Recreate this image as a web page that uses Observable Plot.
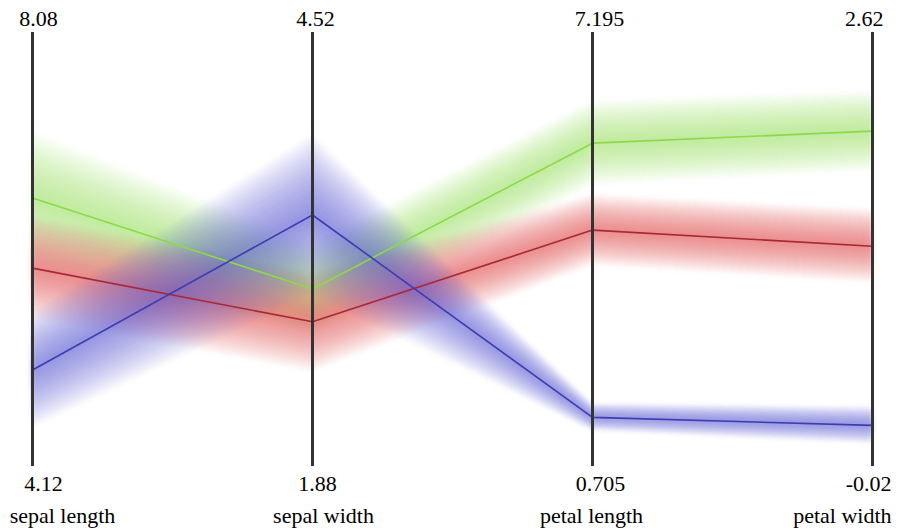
<!DOCTYPE html>
<html><head><meta charset="utf-8">
<script src="https://cdn.jsdelivr.net/npm/d3@7"></script>
<script src="https://cdn.jsdelivr.net/npm/@observablehq/plot@0.6"></script>
<style>
body{margin:0;background:#fff;font-family:"Liberation Serif",serif}
#chart svg text{font-family:"Liberation Serif","Times New Roman",serif !important}
</style>
</head><body><div id="chart"></div>
<script>
// ---- data ----
const dimensions = ["sepal length", "sepal width", "petal length", "petal width"];
const axisMax = [8.08, 4.52, 7.195, 2.62];
const axisMin = [4.12, 1.88, 0.705, -0.02];
const axisMaxLabels = ["8.08", "4.52", "7.195", "2.62"];
const axisMinLabels = ["4.12", "1.88", "0.705", "-0.02"];
const species = ["virginica", "versicolor", "setosa"];
const virginicaMean = [6.57, 2.96, 5.54, 2.02];
const versicolorMean = [5.93, 2.76, 4.24, 1.32];
const setosaMean = [5.00, 3.41, 1.44, 0.23];
const virginicaSpread = [0.60, 0.27, 0.62, 0.24];
const versicolorSpread = [0.46, 0.30, 0.52, 0.22];
const setosaSpread = [0.52, 0.48, 0.20, 0.11];

// ---- styles ----
const FONT = "Liberation Serif";
const lineColor = {virginica: "#8cd94a", versicolor: "#a8283a", setosa: "#3c3cb4"};
const bandColor = {virginica: "#9ee05e", versicolor: "#e0404a", setosa: "#5058d8"};
const topDx = [6, 3, 7, 11];
const bottomDx = [11, 5, 8, 19];
const nameDx = [30, 11, -1, 19];
const anchors = ["middle", "middle", "middle", "end"];

const means = {virginica: virginicaMean, versicolor: versicolorMean, setosa: setosaMean};
const spreads = {virginica: virginicaSpread, versicolor: versicolorSpread, setosa: setosaSpread};
const norm = (v, i) => (v - axisMin[i]) / (axisMax[i] - axisMin[i]);

const rows = [];
for (const s of species) {
  dimensions.forEach((d, i) => {
    rows.push({species: s, dim: d, i, value: means[s][i], spread: spreads[s][i]});
  });
}

const layers = 12;
const bandMarks = [];
for (const s of species) {
  const data = rows.filter(r => r.species === s);
  for (let k = 1; k <= layers; k++) {
    const f = k / layers;
    bandMarks.push(Plot.areaY(data, {
      x: "dim",
      y1: r => norm(r.value - r.spread * f, r.i),
      y2: r => norm(r.value + r.spread * f, r.i),
      fill: bandColor[s],
      fillOpacity: 0.07,
      imageFilter: "blur(2px)"
    }));
  }
}

const textMarks = [];
dimensions.forEach((d, i) => {
  textMarks.push(Plot.text([axisMaxLabels[i]], {x: () => d, y: () => 1, text: t => t, fontSize: 22, fontFamily: FONT, textAnchor: anchors[i], lineAnchor: "bottom", dx: topDx[i], dy: -7}));
  textMarks.push(Plot.text([axisMinLabels[i]], {x: () => d, y: () => 0, text: t => t, fontSize: 22, fontFamily: FONT, textAnchor: anchors[i], lineAnchor: "bottom", dx: bottomDx[i], dy: 24}));
  textMarks.push(Plot.text([d], {x: () => d, y: () => 0, text: t => t, fontSize: 22, fontFamily: FONT, textAnchor: anchors[i], lineAnchor: "bottom", dx: nameDx[i], dy: 56}));
});

const chart = Plot.plot({
  width: 898,
  height: 529,
  marginLeft: 32,
  marginRight: 26,
  marginTop: 32,
  marginBottom: 63,
  x: {type: "point", domain: dimensions, padding: 0, axis: null},
  y: {domain: [0, 1], axis: null},
  marks: [
    ...bandMarks,
    Plot.line(rows, {
      x: "dim",
      y: r => norm(r.value, r.i),
      z: "species",
      stroke: r => lineColor[r.species],
      strokeWidth: 1.6
    }),
    Plot.ruleX(dimensions, {x: d => d, y1: 0, y2: 1, stroke: "#333", strokeWidth: 3}),
    ...textMarks
  ]
});
document.getElementById("chart").appendChild(chart);
</script>
</body></html>
